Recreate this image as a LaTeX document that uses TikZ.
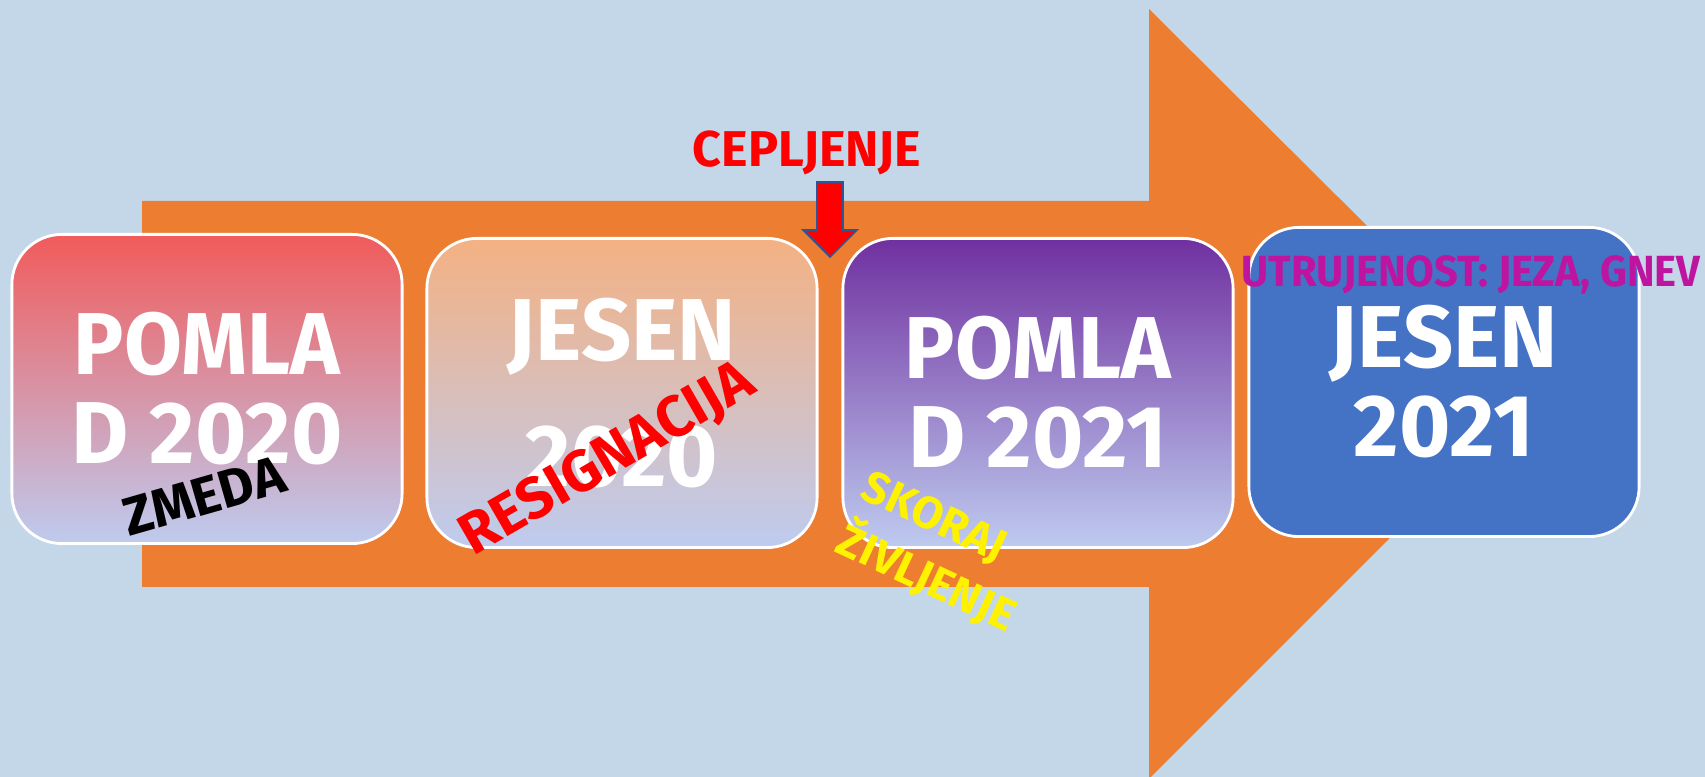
\documentclass[tikz,border=0pt]{standalone}
\usepackage{fontspec}
\setmainfont{Fira Sans}
\newfontfamily\narrowfont{Fira Sans}[FakeStretch=0.955]
\usepackage{tikz}

\definecolor{bgblue}{RGB}{196,215,232}
\definecolor{bigorange}{RGB}{237,125,49}
\definecolor{lavender}{RGB}{190,203,239}
\definecolor{springred}{RGB}{241,91,91}
\definecolor{autumnorange}{RGB}{244,177,131}
\definecolor{springviolet}{RGB}{112,48,160}
\definecolor{autumnblue}{RGB}{68,114,196}
\definecolor{edgeblue}{RGB}{47,85,151}
\definecolor{angermagenta}{RGB}{190,20,160}

\begin{document}
\begin{tikzpicture}[x=0.01cm,y=-0.01cm,
  season/.style={draw=white, line width=0.8pt, rounded corners=0.5cm,
    minimum width=3.9cm, minimum height=3.09cm, inner sep=0pt,
    align=center, text=white, font=\bfseries\fontsize{25}{25.3}\selectfont},
  mood/.style={inner sep=0pt, font=\bfseries}]
\useasboundingbox (0,0) rectangle (1705,777);
\fill[bgblue] (0,0) rectangle (1705,777);

% big arrow
\fill[bigorange] (142,201) -- (1149,201) -- (1149,9) -- (1535,393)
  -- (1149,779) -- (1149,587) -- (142,587) -- cycle;

% seasons
\node[season, top color=springred, bottom color=lavender] (pomlad20) at (207,389) {{\narrowfont POMLA}\\D 2020};
\node[season, top color=autumnorange, bottom color=lavender] (jesen20) at (622,393) {JESEN\\[10.3pt]2020};
\node[season, top color=springviolet, bottom color=lavender] (pomlad21) at (1038,393) {{\narrowfont POMLA}\\D 2021};
\node[season, fill=autumnblue] (jesen21) at (1444,382) {JESEN\\2021};

% vaccination
\node[mood, text=red, font=\bfseries\fontsize{14.3}{14.3}\selectfont, anchor=base] (cepljenje) at (807,167) {CEPLJENJE};
\draw[fill=red, draw=edgeblue, line width=0.5pt] (817,182) -- (843,182) -- (843,230) -- (857,230)
  -- (830,257) -- (803,230) -- (817,230) -- cycle;

% moods
\node[mood, text=black, font=\bfseries\fontsize{15.3}{15.3}\selectfont, anchor=base, rotate=16] (zmeda) at (209,514) {ZMEDA};
\node[mood, text=red, font=\bfseries\fontsize{16.5}{16.5}\selectfont, anchor=base, rotate=30] (resignacija) at (616,474) {RESIGNACIJA};
\node[mood, text=yellow, font=\bfseries\fontsize{12.8}{16.8}\selectfont, align=left, anchor=north west, rotate=-25] (skoraj) at (872,468) {SKORAJ\\ŽIVLJENJE};
\node[mood, text=angermagenta, font=\narrowfont\bfseries\fontsize{12.4}{12.4}\selectfont, anchor=base] (utrujenost) at (1471,287) {UTRUJENOST: JEZA, GNEV};

\end{tikzpicture}
\end{document}
